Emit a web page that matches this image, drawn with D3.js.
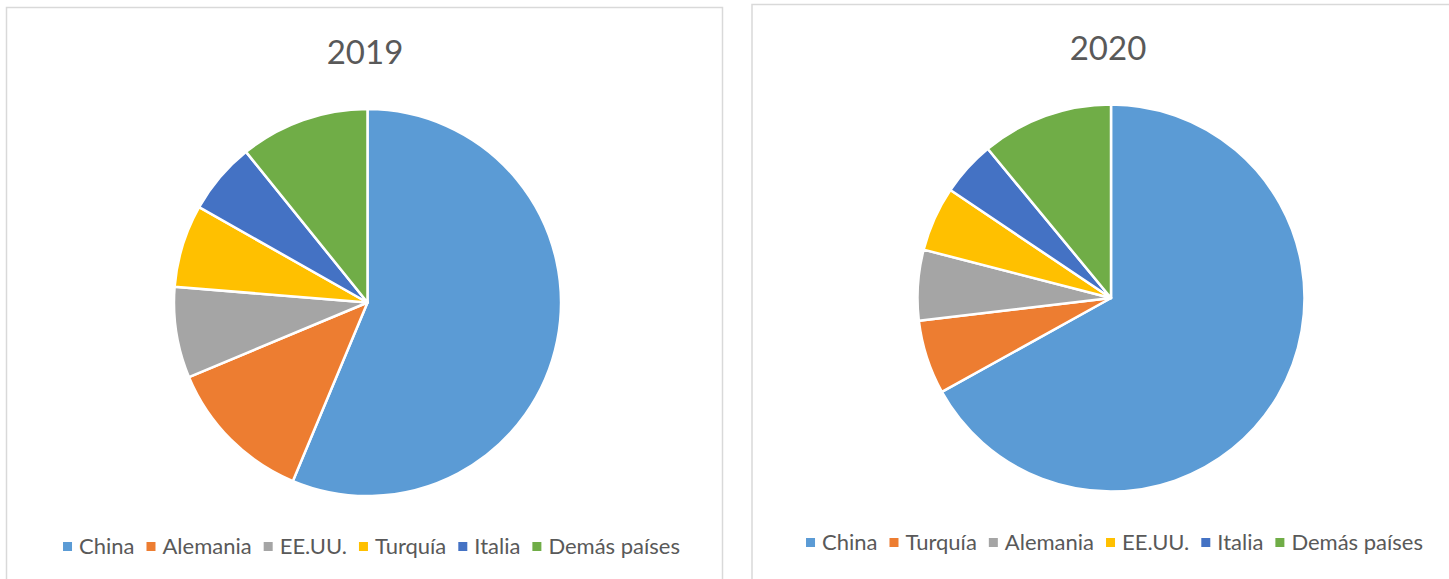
<!DOCTYPE html>
<html>
  <head>
    <meta charset="UTF-8">
    <title>title</title>
    <script src="https://d3js.org/d3.v7.min.js"></script>
    <style>
      body { margin: 0; background: #fff; }
      text { font-family: Lato, "Open Sans", sans-serif; fill: #595959; }
    </style>
  </head>

  <body>
    <div class="charts"></div>

    <script type="application/javascript">
      const colors = ["#5B9BD5", "#ED7D31", "#A5A5A5", "#FFC000", "#4472C4", "#70AD47"];

      const cats2019 = ["China", "Alemania", "EE.UU.", "Turquía", "Italia", "Demás países"];
      const vals2019 = [56.3, 12.4, 7.6, 6.9, 6.0, 10.8];

      const cats2020 = ["China", "Turquía", "Alemania", "EE.UU.", "Italia", "Demás países"];
      const vals2020 = [67.0, 6.2, 5.9, 5.4, 4.6, 11.0];

      const svg = d3.select(".charts").append("svg")
              .attr("width", 1449)
              .attr("height", 579)

      function drawChart(title, cats, vals, box) {
        const g = svg.append("g")

        g.append("rect")
          .attr("x", box.x).attr("y", box.y)
          .attr("width", box.w).attr("height", box.h)
          .attr("fill", "#fff")
          .attr("stroke", "#d9d9d9")
          .attr("stroke-width", 1.5)

        g.append("text")
          .attr("x", box.titleX).attr("y", box.titleY)
          .attr("text-anchor", "middle")
          .style("font-size", "33px")
          .text(title)

        const data = cats.map((c, i) => ({cat: c, v: vals[i], color: colors[i]}))
        const pie = d3.pie().sort(null).value(d => d.v)
        const arc = d3.arc().innerRadius(0).outerRadius(box.r)

        g.append("g")
          .attr("transform", `translate(${box.cx}, ${box.cy})`)
          .selectAll("path")
          .data(pie(data))
          .join("path")
            .attr("d", arc)
            .attr("fill", d => d.data.color)
            .attr("stroke", "#fff")
            .attr("stroke-width", 2.5)
            .attr("stroke-linejoin", "round")

        // legend, laid out from measured text widths and centred
        const leg = g.append("g")
        let x = 0
        data.forEach(d => {
          const item = leg.append("g").attr("transform", `translate(${x}, 0)`)
          item.append("rect")
            .attr("x", 0).attr("y", -12)
            .attr("width", 9).attr("height", 9)
            .attr("fill", d.color)
          const t = item.append("text")
            .attr("x", 16).attr("y", 0)
            .style("font-size", "22px")
            .text(d.cat)
          x += 16 + t.node().getComputedTextLength() + 12
        })
        const total = x - 12
        leg.attr("transform", `translate(${box.legX - total / 2}, ${box.legY})`)
      }

      drawChart("2019", cats2019, vals2019,
        {x: 6.5, y: 7.5, w: 716, h: 600, titleX: 365, titleY: 64,
         cx: 367.5, cy: 302.5, r: 193.5, legX: 371.5, legY: 554})

      drawChart("2020", cats2020, vals2020,
        {x: 752, y: 4.5, w: 720, h: 600, titleX: 1108, titleY: 60,
         cx: 1111, cy: 298, r: 193.5, legX: 1114.5, legY: 550})
    </script>
  </body>

</html>
